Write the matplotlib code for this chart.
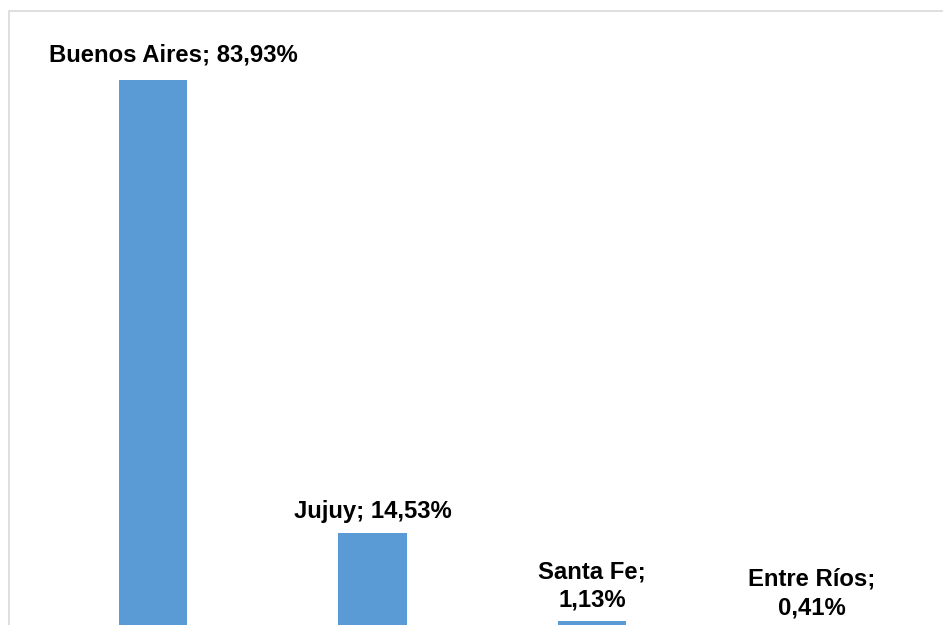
import matplotlib.pyplot as plt
from matplotlib.patches import Rectangle

# Datos
provincias = ["Buenos Aires", "Jujuy", "Santa Fe", "Entre Ríos"]
porcentajes = [83.93, 14.53, 1.13, 0.41]
etiquetas = ["Buenos Aires; 83,93%", "Jujuy; 14,53%", "Santa Fe;\n1,13%", "Entre Ríos;\n0,41%"]

W, H = 943, 625
fig = plt.figure(figsize=(W / 100, H / 100), dpi=100)
fig.patch.set_facecolor("white")

# Borde del área del gráfico (recortado a la derecha y abajo)
fig.patches.append(Rectangle((9 / W, -0.1), 1.2, (H - 11) / H + 0.1,
                             transform=fig.transFigure, fill=False,
                             edgecolor="#d9d9d9", linewidth=1.2))

# Eje: base de las barras un poco debajo del borde inferior
base_px = 628
top_px = 11
ax = fig.add_axes([43.25 / W, (H - base_px) / H, 878 / W, (base_px - top_px) / H])
ax.set_xlim(-0.5, 3.5)
ax.set_ylim(0, (base_px - top_px) / 6.53)
ax.axis("off")

x = range(len(provincias))
ax.bar(x, porcentajes, width=0.31, color="#5b9bd5")

# desplazamientos de las etiquetas en píxeles
desplaz_x = [20, 0, 0, 0]
desplaz_y = [13, 10, 9, 6]
for i, (v, txt) in enumerate(zip(porcentajes, etiquetas)):
    ax.annotate(txt, (i, v), xytext=(desplaz_x[i] * 0.72, desplaz_y[i] * 0.72),
                textcoords="offset points", ha="center", va="bottom",
                fontsize=17.2, fontweight="bold", family="Liberation Sans",
                linespacing=1.3, color="black")

fig.savefig("out.png", dpi=100, facecolor="white")
